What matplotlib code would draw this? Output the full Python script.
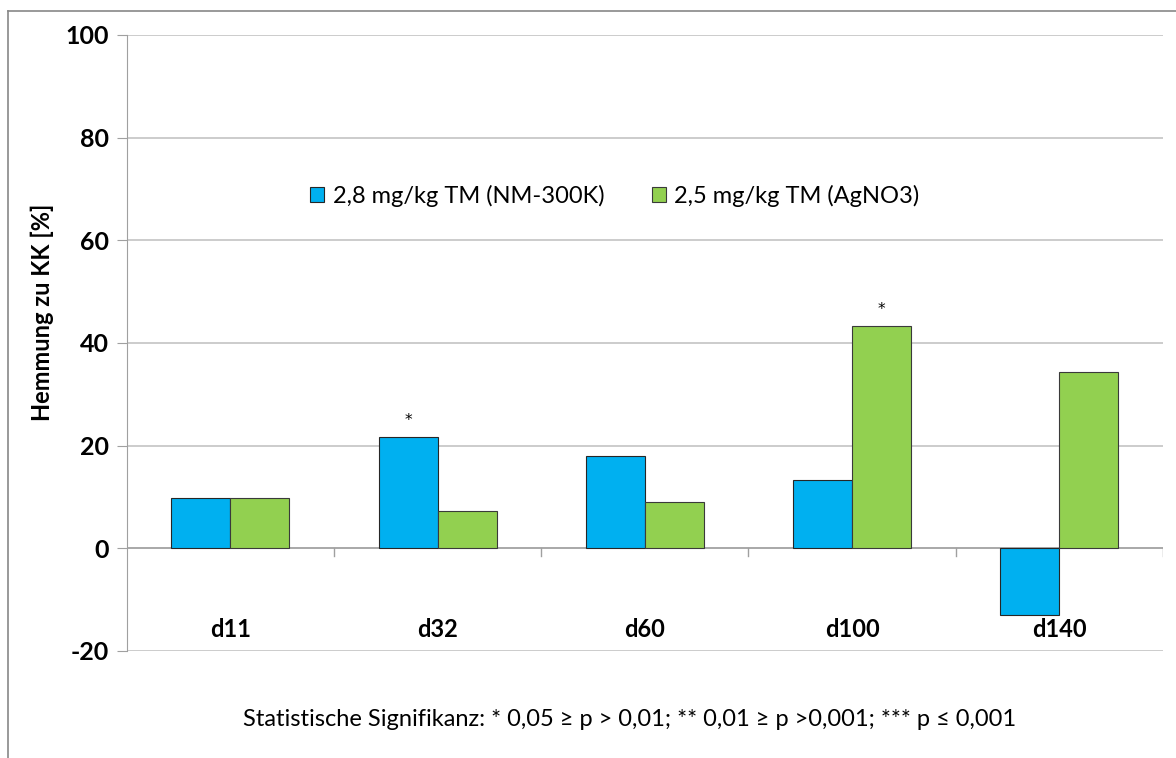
import matplotlib
matplotlib.use('Agg')
import matplotlib.pyplot as plt
import numpy as np
from matplotlib.lines import Line2D

plt.rcParams['font.family'] = ['Lato', 'DejaVu Sans']

categories = ['d11', 'd32', 'd60', 'd100', 'd140']
nm300k = [9.8, 21.7, 17.9, 13.4, -12.9]
agno3 = [9.8, 7.3, 9.0, 43.3, 34.3]
sig_nm = ['', '*', '', '', '']
sig_ag = ['', '', '', '*', '']
seriesNames = ['2,8 mg/kg TM (NM-300K)', '2,5 mg/kg TM (AgNO3)']
yticks = [-20, 0, 20, 40, 60, 80, 100]
footnote = 'Statistische Signifikanz: * 0,05 \u2265 p > 0,01; ** 0,01 \u2265 p >0,001; *** p \u2264 0,001'

blue = '#00B0F0'
green = '#92D050'
gridColor = '#BFBFBF'
barWidth = 0.285

fig = plt.figure(figsize=(11.76, 7.58), dpi=100)
ax = fig.add_axes([126.7/1176, 1-651/758, (1163-126.7)/1176, 616/758])

x = np.arange(len(categories))
ax.bar(x - barWidth/2, nm300k, barWidth, color=blue, edgecolor='#262626', linewidth=0.8, label=seriesNames[0], zorder=3)
ax.bar(x + barWidth/2, agno3, barWidth, color=green, edgecolor='#3a3a3a', linewidth=0.8, label=seriesNames[1], zorder=3)

# significance stars
for i in range(len(categories)):
    if sig_nm[i]:
        ax.annotate(sig_nm[i], (x[i] - barWidth/2, max(nm300k[i], 0)), xytext=(0, 12), textcoords='offset points',
                    ha='center', va='center', fontsize=11, family='DejaVu Sans')
    if sig_ag[i]:
        ax.annotate(sig_ag[i], (x[i] + barWidth/2, max(agno3[i], 0)), xytext=(0, 12), textcoords='offset points',
                    ha='center', va='center', fontsize=11, family='DejaVu Sans')

ax.set_xlim(-0.5, len(categories) - 0.5)
ax.set_ylim(-20, 100)
ax.set_yticks(yticks)
ax.set_yticklabels([str(v) for v in yticks], fontsize=18, fontweight='bold')
ax.tick_params(axis='y', length=7, color='#A0A0A0', pad=6)
ax.set_xticks([])
ax.yaxis.grid(True, color=gridColor, linewidth=1.1, zorder=0)
for s in ['top', 'right', 'bottom']:
    ax.spines[s].set_visible(False)
ax.spines['left'].set_color('#A0A0A0')

# category axis at zero with ticks between categories
ax.axhline(0, color='#A0A0A0', linewidth=1.1, zorder=2)
for b in np.arange(0.5, len(categories), 1.0):
    ax.plot([b, b], [0, -1.5], color='#A0A0A0', linewidth=1.0, zorder=2)
for i, c in enumerate(categories):
    ax.text(x[i], -15.9, c, ha='center', va='center', fontsize=17, fontweight='bold')

# y label sits above the axis centre in the original
fig.text(42/1176, 1-312/758, 'Hemmung zu KK [%]', rotation=90, ha='center', va='center',
         fontsize=17, fontweight='bold')

ax.legend(loc='center', bbox_to_anchor=(0.471, 0.739), ncol=2, frameon=False, fontsize=17,
          handlelength=0.6, handleheight=0.6, handletextpad=0.35, columnspacing=2.0)

fig.text(630/1176, 1-719/758, footnote, ha='center', va='center', fontsize=17)

# outer chart frame
fig.add_artist(Line2D([8/1176, 1.0], [1-11/758, 1-11/758], color='#888888', linewidth=1.2))
fig.add_artist(Line2D([8/1176, 8/1176], [0, 1-11/758], color='#888888', linewidth=1.2))

fig.savefig('out.png', dpi=100)
